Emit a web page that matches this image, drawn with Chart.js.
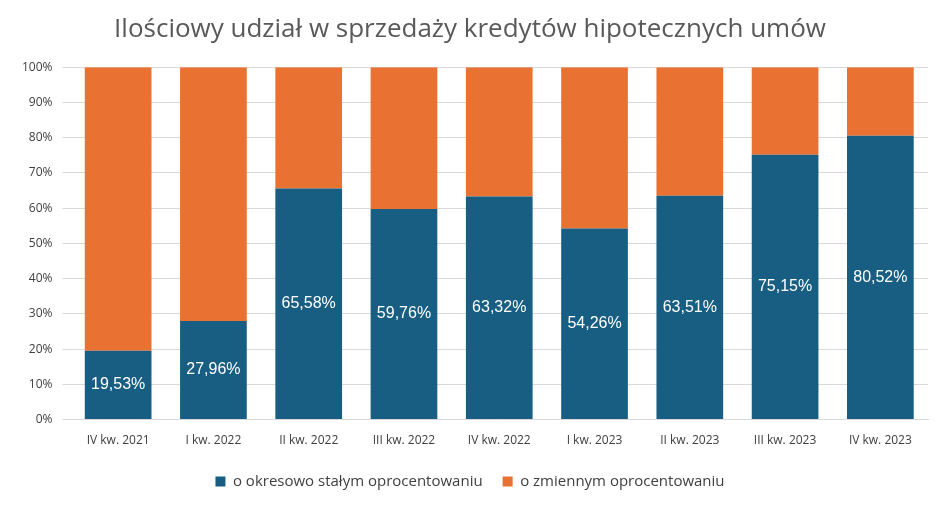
<!DOCTYPE html>
<html><head><meta charset="utf-8">
<script src="https://cdn.jsdelivr.net/npm/chart.js@4/dist/chart.umd.min.js"></script>
<style>body{margin:0;background:#fff}#wrap{width:948px;height:507px}</style>
</head><body><div id="wrap"><canvas id="c"></canvas></div>
<script>
var labels = ['IV kw. 2021','I kw. 2022','II kw. 2022','III kw. 2022','IV kw. 2022','I kw. 2023','II kw. 2023','III kw. 2023','IV kw. 2023'];
var fixedRate = [19.53, 27.96, 65.58, 59.76, 63.32, 54.26, 63.51, 75.15, 80.52];
var variableRate = [80.47, 72.04, 34.42, 40.24, 36.68, 45.74, 36.49, 24.85, 19.48];

// podpisy w niebieskich słupkach
var valueLabels = {
  id: 'valueLabels',
  afterDatasetsDraw: function(chart) {
    var ctx = chart.ctx;
    var meta = chart.getDatasetMeta(0);
    ctx.save();
    ctx.fillStyle = '#fff';
    ctx.font = '16px "Liberation Sans", sans-serif';
    ctx.textAlign = 'center';
    ctx.textBaseline = 'middle';
    meta.data.forEach(function(bar, i) {
      ctx.fillText(fixedRate[i].toFixed(2).replace('.', ',') + '%', bar.x, (bar.y + bar.base) / 2);
    });
    ctx.restore();
  }
};

new Chart(document.getElementById('c'), {
  type: 'bar',
  data: {
    labels: labels,
    datasets: [
      {label: 'o okresowo stałym oprocentowaniu', data: fixedRate, backgroundColor: '#175E82', categoryPercentage: 0.7, barPercentage: 1},
      {label: 'o zmiennym oprocentowaniu', data: variableRate, backgroundColor: '#E97132', categoryPercentage: 0.7, barPercentage: 1}
    ]
  },
  options: {
    responsive: true, maintainAspectRatio: false, animation: false,
    layout: {padding: {left: 12, right: 20, top: 10, bottom: 8}},
    plugins: {
      title: {display: true, text: 'Ilościowy udział w sprzedaży kredytów hipotecznych umów',
        color: '#595959', font: {size: 26, family: 'Open Sans', weight: 'normal'}, padding: {top: 4, bottom: 22}},
      legend: {position: 'bottom', labels: {color: '#404040', font: {size: 15, family: 'Open Sans'}, boxWidth: 10, boxHeight: 10, padding: 20}},
      tooltip: {enabled: false}
    },
    scales: {
      x: {stacked: true, grid: {display: false}, border: {color: '#d9d9d9'},
        ticks: {color: '#404040', padding: 6, font: {size: 12, family: 'Open Sans'}}},
      y: {stacked: true, min: 0, max: 100, border: {display: false},
        grid: {color: '#d9d9d9'},
        ticks: {stepSize: 10, color: '#404040', padding: 10, font: {size: 12, family: 'Open Sans'}, callback: function(v){return v + '%';}}}
    }
  },
  plugins: [valueLabels]
});
</script></body></html>
